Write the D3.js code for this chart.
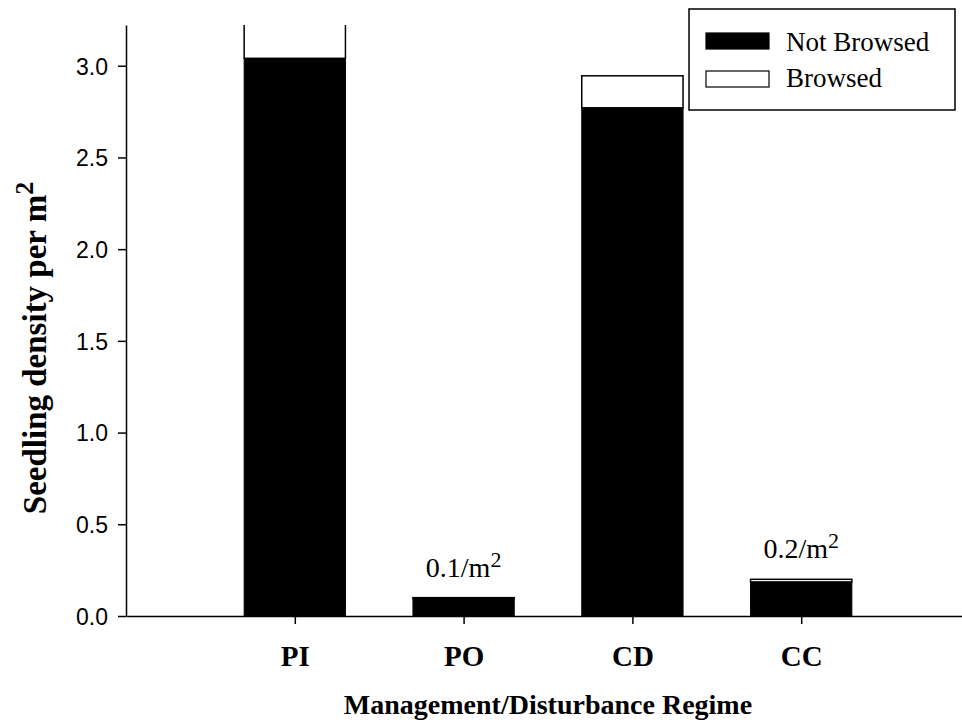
<!DOCTYPE html>
<html>
<head>
<meta charset="utf-8">
<script src="https://cdn.jsdelivr.net/npm/d3@7"></script>
<style>
  body { margin: 0; background: #fff; }
  svg { display: block; }
  .tick-y text { font-family: "Liberation Sans", Arial, sans-serif; font-size: 23px; fill: #000; }
  .tick-x text { font-family: "Liberation Serif", "Times New Roman", serif; font-size: 29px; font-weight: bold; fill: #000; }
</style>
</head>
<body>
<div id="chart"></div>
<script>
// seedling density data
const categories = ['PI', 'PO', 'CD', 'CC'];
const notBrowsed = [3.04, 0.095, 2.77, 0.185];
const browsed = [0.30, 0.005, 0.175, 0.015];
const yTicks = [0.0, 0.5, 1.0, 1.5, 2.0, 2.5, 3.0];
const noteLabels = ['', '0.1/m', '', '0.2/m'];
const noteValues = [0, 0.1, 0, 0.2];

const FRAME_WIDTH = 962;
const FRAME_HEIGHT = 726;
const MARGINS = {left: 126, right: -8, top: 25, bottom: 110};
const VIS_WIDTH = FRAME_WIDTH - MARGINS.left - MARGINS.right;
const VIS_HEIGHT = FRAME_HEIGHT - MARGINS.top - MARGINS.bottom;

const svg = d3.select('#chart')
  .append('svg')
    .attr('width', FRAME_WIDTH)
    .attr('height', FRAME_HEIGHT);

// scales
const xscale = d3.scaleLinear()
  .domain([0, categories.length + 1])
  .range([MARGINS.left, MARGINS.left + VIS_WIDTH]);
const yscale = d3.scaleLinear()
  .domain([0, 3.222])
  .range([MARGINS.top + VIS_HEIGHT, MARGINS.top]);

const barW = (xscale(1) - xscale(0)) * 0.6;

svg.append('clipPath').attr('id', 'plotclip')
  .append('rect')
    .attr('x', MARGINS.left)
    .attr('y', MARGINS.top)
    .attr('width', VIS_WIDTH)
    .attr('height', VIS_HEIGHT);

const stacked = categories.map((c, i) => ({
  cat: c, i: i, nb: notBrowsed[i], b: browsed[i]
}));

const bars = svg.append('g').attr('clip-path', 'url(#plotclip)');

// browsed part on top
bars.selectAll('.browsed')
  .data(stacked)
  .enter().append('rect')
    .attr('class', 'browsed')
    .attr('x', d => xscale(d.i + 1) - barW / 2)
    .attr('y', d => yscale(d.nb + d.b))
    .attr('width', barW)
    .attr('height', d => yscale(d.nb) - yscale(d.nb + d.b))
    .attr('fill', '#fff')
    .attr('stroke', '#000')
    .attr('stroke-width', 1.5);

// not browsed part
bars.selectAll('.notbrowsed')
  .data(stacked)
  .enter().append('rect')
    .attr('class', 'notbrowsed')
    .attr('x', d => xscale(d.i + 1) - barW / 2)
    .attr('y', d => yscale(d.nb))
    .attr('width', barW)
    .attr('height', d => yscale(0) - yscale(d.nb))
    .attr('fill', '#000')
    .attr('stroke', '#000')
    .attr('stroke-width', 1);

// y axis
const yAxis = svg.append('g')
  .attr('class', 'tick-y')
  .attr('transform', 'translate(' + MARGINS.left + ',0)')
  .call(d3.axisLeft(yscale)
    .tickValues(yTicks)
    .tickFormat(d3.format('.1f'))
    .tickSize(8)
    .tickSizeOuter(0)
    .tickPadding(10));
yAxis.selectAll('path, line').attr('stroke', '#000').attr('stroke-width', 1.5);
yAxis.selectAll('text').attr('dy', '0.36em');

// x axis
const xAxis = svg.append('g')
  .attr('class', 'tick-x')
  .attr('transform', 'translate(0,' + yscale(0) + ')')
  .call(d3.axisBottom(xscale)
    .tickValues(categories.map((c, i) => i + 1))
    .tickFormat((d) => categories[d - 1])
    .tickSize(8)
    .tickSizeOuter(0));
xAxis.selectAll('path, line').attr('stroke', '#000').attr('stroke-width', 1.5);
xAxis.selectAll('text').attr('y', 29).attr('dy', '0.71em');

// notes above small bars
categories.forEach((c, i) => {
  if (noteLabels[i] === '') return;
  const t = svg.append('text')
    .attr('x', xscale(i + 1))
    .attr('y', yscale(noteValues[i]) - 21)
    .attr('text-anchor', 'middle')
    .attr('font-family', '"Liberation Serif", "Times New Roman", serif')
    .attr('font-size', '28px')
    .text(noteLabels[i]);
  t.append('tspan')
    .attr('dy', '-0.45em')
    .attr('font-size', '22px')
    .text('2');
});

// axis titles
svg.append('text')
  .attr('x', (xscale.range()[0] + xscale.range()[1]) / 2)
  .attr('y', 714)
  .attr('text-anchor', 'middle')
  .attr('font-family', '"Liberation Serif", "Times New Roman", serif')
  .attr('font-weight', 'bold')
  .attr('font-size', '28px')
  .text('Management/Disturbance Regime');

const ylab = svg.append('text')
  .attr('transform', 'translate(46,348) rotate(-90)')
  .attr('text-anchor', 'middle')
  .attr('font-family', '"Liberation Serif", "Times New Roman", serif')
  .attr('font-weight', 'bold')
  .attr('font-size', '33px')
  .text('Seedling density per m');
ylab.append('tspan')
  .attr('dy', '-0.5em')
  .attr('font-size', '26px')
  .text('2');

// legend
const legend = svg.append('g').attr('transform', 'translate(689,9)');
legend.append('rect')
  .attr('width', 266)
  .attr('height', 101)
  .attr('fill', '#fff')
  .attr('stroke', '#000')
  .attr('stroke-width', 1.5);

const legendItems = [
  {label: 'Not Browsed', fill: '#000'},
  {label: 'Browsed', fill: '#fff'}
];
legend.selectAll('.swatch')
  .data(legendItems)
  .enter().append('rect')
    .attr('x', 17)
    .attr('y', (d, i) => 24 + i * 38)
    .attr('width', 63)
    .attr('height', 16)
    .attr('fill', d => d.fill)
    .attr('stroke', '#000')
    .attr('stroke-width', 1.2);
legend.selectAll('.ltext')
  .data(legendItems)
  .enter().append('text')
    .attr('x', 97)
    .attr('y', (d, i) => 42 + i * 36)
    .attr('font-family', '"Liberation Serif", "Times New Roman", serif')
    .attr('font-size', '27px')
    .text(d => d.label);
</script>
</body>
</html>
